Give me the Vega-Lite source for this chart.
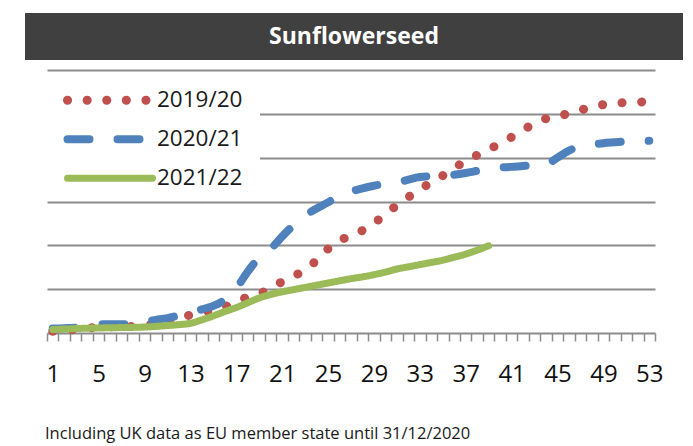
{
  "$schema": "https://vega.github.io/schema/vega-lite/v6.json",
  "padding": {"left": 25, "top": 13, "right": 10, "bottom": 0},
  "background": "white",
  "config": {"font": "Open Sans", "view": {"stroke": null}},
  "datasets": {
    "head": [{"label": "Sunflowerseed"}],
    "series": [
      {"week":1,"season":"2019/20","value":20},{"week":2,"season":"2019/20","value":30},{"week":3,"season":"2019/20","value":40},{"week":4,"season":"2019/20","value":55},{"week":5,"season":"2019/20","value":65},{"week":6,"season":"2019/20","value":70},{"week":7,"season":"2019/20","value":72},{"week":8,"season":"2019/20","value":75},{"week":9,"season":"2019/20","value":85},{"week":10,"season":"2019/20","value":105},{"week":11,"season":"2019/20","value":130},{"week":12,"season":"2019/20","value":170},{"week":13,"season":"2019/20","value":205},{"week":14,"season":"2019/20","value":235},{"week":15,"season":"2019/20","value":265},{"week":16,"season":"2019/20","value":300},{"week":17,"season":"2019/20","value":355},{"week":18,"season":"2019/20","value":410},{"week":19,"season":"2019/20","value":445},{"week":20,"season":"2019/20","value":515},{"week":21,"season":"2019/20","value":585},{"week":22,"season":"2019/20","value":650},{"week":23,"season":"2019/20","value":720},{"week":24,"season":"2019/20","value":830},{"week":25,"season":"2019/20","value":960},{"week":26,"season":"2019/20","value":1060},{"week":27,"season":"2019/20","value":1100},{"week":28,"season":"2019/20","value":1170},{"week":29,"season":"2019/20","value":1250},{"week":30,"season":"2019/20","value":1360},{"week":31,"season":"2019/20","value":1455},{"week":32,"season":"2019/20","value":1550},{"week":33,"season":"2019/20","value":1640},{"week":34,"season":"2019/20","value":1715},{"week":35,"season":"2019/20","value":1795},{"week":36,"season":"2019/20","value":1880},{"week":37,"season":"2019/20","value":1965},{"week":38,"season":"2019/20","value":2030},{"week":39,"season":"2019/20","value":2095},{"week":40,"season":"2019/20","value":2160},{"week":41,"season":"2019/20","value":2235},{"week":42,"season":"2019/20","value":2315},{"week":43,"season":"2019/20","value":2390},{"week":44,"season":"2019/20","value":2445},{"week":45,"season":"2019/20","value":2480},{"week":46,"season":"2019/20","value":2500},{"week":47,"season":"2019/20","value":2540},{"week":48,"season":"2019/20","value":2580},{"week":49,"season":"2019/20","value":2605},{"week":50,"season":"2019/20","value":2620},{"week":51,"season":"2019/20","value":2628},{"week":52,"season":"2019/20","value":2634},{"week":53,"season":"2019/20","value":2640},
      {"week":1,"season":"2020/21","value":50},{"week":2,"season":"2020/21","value":55},{"week":3,"season":"2020/21","value":60},{"week":4,"season":"2020/21","value":80},{"week":5,"season":"2020/21","value":100},{"week":6,"season":"2020/21","value":100},{"week":7,"season":"2020/21","value":100},{"week":8,"season":"2020/21","value":110},{"week":9,"season":"2020/21","value":130},{"week":10,"season":"2020/21","value":150},{"week":11,"season":"2020/21","value":170},{"week":12,"season":"2020/21","value":200},{"week":13,"season":"2020/21","value":230},{"week":14,"season":"2020/21","value":270},{"week":15,"season":"2020/21","value":310},{"week":16,"season":"2020/21","value":380},{"week":17,"season":"2020/21","value":510},{"week":18,"season":"2020/21","value":700},{"week":19,"season":"2020/21","value":860},{"week":20,"season":"2020/21","value":960},{"week":21,"season":"2020/21","value":1100},{"week":22,"season":"2020/21","value":1230},{"week":23,"season":"2020/21","value":1340},{"week":24,"season":"2020/21","value":1420},{"week":25,"season":"2020/21","value":1490},{"week":26,"season":"2020/21","value":1570},{"week":27,"season":"2020/21","value":1615},{"week":28,"season":"2020/21","value":1650},{"week":29,"season":"2020/21","value":1680},{"week":30,"season":"2020/21","value":1700},{"week":31,"season":"2020/21","value":1715},{"week":32,"season":"2020/21","value":1750},{"week":33,"season":"2020/21","value":1780},{"week":34,"season":"2020/21","value":1788},{"week":35,"season":"2020/21","value":1792},{"week":36,"season":"2020/21","value":1805},{"week":37,"season":"2020/21","value":1825},{"week":38,"season":"2020/21","value":1850},{"week":39,"season":"2020/21","value":1875},{"week":40,"season":"2020/21","value":1888},{"week":41,"season":"2020/21","value":1895},{"week":42,"season":"2020/21","value":1905},{"week":43,"season":"2020/21","value":1912},{"week":44,"season":"2020/21","value":1925},{"week":45,"season":"2020/21","value":2000},{"week":46,"season":"2020/21","value":2080},{"week":47,"season":"2020/21","value":2130},{"week":48,"season":"2020/21","value":2150},{"week":49,"season":"2020/21","value":2165},{"week":50,"season":"2020/21","value":2175},{"week":51,"season":"2020/21","value":2185},{"week":52,"season":"2020/21","value":2190},{"week":53,"season":"2020/21","value":2192},
      {"week":1,"season":"2021/22","value":40},{"week":2,"season":"2021/22","value":45},{"week":3,"season":"2021/22","value":50},{"week":4,"season":"2021/22","value":55},{"week":5,"season":"2021/22","value":57},{"week":6,"season":"2021/22","value":60},{"week":7,"season":"2021/22","value":62},{"week":8,"season":"2021/22","value":65},{"week":9,"season":"2021/22","value":68},{"week":10,"season":"2021/22","value":75},{"week":11,"season":"2021/22","value":85},{"week":12,"season":"2021/22","value":95},{"week":13,"season":"2021/22","value":110},{"week":14,"season":"2021/22","value":150},{"week":15,"season":"2021/22","value":195},{"week":16,"season":"2021/22","value":245},{"week":17,"season":"2021/22","value":290},{"week":18,"season":"2021/22","value":345},{"week":19,"season":"2021/22","value":400},{"week":20,"season":"2021/22","value":440},{"week":21,"season":"2021/22","value":470},{"week":22,"season":"2021/22","value":495},{"week":23,"season":"2021/22","value":520},{"week":24,"season":"2021/22","value":545},{"week":25,"season":"2021/22","value":570},{"week":26,"season":"2021/22","value":595},{"week":27,"season":"2021/22","value":620},{"week":28,"season":"2021/22","value":640},{"week":29,"season":"2021/22","value":665},{"week":30,"season":"2021/22","value":695},{"week":31,"season":"2021/22","value":730},{"week":32,"season":"2021/22","value":755},{"week":33,"season":"2021/22","value":780},{"week":34,"season":"2021/22","value":805},{"week":35,"season":"2021/22","value":830},{"week":36,"season":"2021/22","value":865},{"week":37,"season":"2021/22","value":900},{"week":38,"season":"2021/22","value":945},{"week":39,"season":"2021/22","value":995}
    ]
  },
  "spacing": 10,
  "vconcat": [
    {
      "width": 658,
      "height": 47,
      "view": {"fill": "#404040", "stroke": null},
      "data": {"name": "head"},
      "mark": {"type": "text", "color": "white", "fontSize": 23, "fontWeight": "bold", "font": "Open Sans"},
      "encoding": {"text": {"field": "label"}}
    },
    {
      "width": 658,
      "height": 263,
      "data": {"name": "series"},
      "title": {
        "text": "Including UK data as EU member state until 31/12/2020",
        "orient": "bottom", "anchor": "start", "frame": "group",
        "fontSize": 16.5, "fontWeight": "normal", "font": "Open Sans",
        "color": "#1a1a1a", "offset": 40, "dx": 20
      },
      "mark": {"type": "line", "strokeCap": "round", "strokeJoin": "round", "interpolate": "monotone"},
      "encoding": {
        "x": {
          "field": "week", "type": "quantitative",
          "scale": {"domain": [0.5, 53.5], "range": [22, 630], "nice": false, "zero": false},
          "axis": {
            "title": null, "grid": false,
            "values": [0.5,1.5,2.5,3.5,4.5,5.5,6.5,7.5,8.5,9.5,10.5,11.5,12.5,13.5,14.5,15.5,16.5,17.5,18.5,19.5,20.5,21.5,22.5,23.5,24.5,25.5,26.5,27.5,28.5,29.5,30.5,31.5,32.5,33.5,34.5,35.5,36.5,37.5,38.5,39.5,40.5,41.5,42.5,43.5,44.5,45.5,46.5,47.5,48.5,49.5,50.5,51.5,52.5,53.5],
            "labelExpr": "(datum.value - 0.5) % 4 == 0 ? format(datum.value + 0.5, 'd') : ''",
            "labelOffset": 5.74, "labelOverlap": false, "labelFlush": false, "labelBound": false,
            "labelFontSize": 24, "labelFont": "Open Sans", "labelColor": "#111111", "labelPadding": 21,
            "tickSize": 8, "tickColor": "#8c8c8c", "tickWidth": 1.5,
            "domainColor": "#8c8c8c", "domainWidth": 2
          }
        },
        "y": {
          "field": "value", "type": "quantitative",
          "scale": {"domain": [0, 3000], "nice": false},
          "axis": {
            "title": null, "labels": false, "ticks": false, "domain": false,
            "values": [500, 1000, 1500, 2000, 2500, 3000],
            "grid": true, "gridColor": "#8c8c8c", "gridWidth": 2
          }
        },
        "color": {
          "field": "season", "type": "nominal",
          "scale": {"domain": ["2019/20", "2020/21", "2021/22"], "range": ["#C0504D", "#4F81BD", "#9BBB59"]},
          "legend": {
            "orient": "none", "legendX": 22, "legendY": 65,
            "title": "\u00a0", "titleOrient": "right", "titlePadding": 15, "titleFontSize": 10,
            "fillColor": "white", "padding": 3,
            "symbolType": "stroke", "symbolSize": 7225, "symbolOffset": 13,
            "clipHeight": 38.5, "rowPadding": 0,
            "labelFontSize": 22.5, "labelFont": "Open Sans", "labelColor": "#1a1a1a",
            "labelOffset": 0,
            "encode": {"symbols": {"update": {"strokeCap": {"value": "round"}}}}
          }
        },
        "strokeDash": {
          "field": "season", "type": "nominal",
          "scale": {"domain": ["2019/20", "2020/21", "2021/22"], "range": [[0.1, 19.5], [22, 28], [1, 0]]}
        },
        "strokeWidth": {
          "field": "season", "type": "nominal",
          "scale": {"domain": ["2019/20", "2020/21", "2021/22"], "range": [9, 7, 6.5]}
        }
      }
    }
  ]
}
